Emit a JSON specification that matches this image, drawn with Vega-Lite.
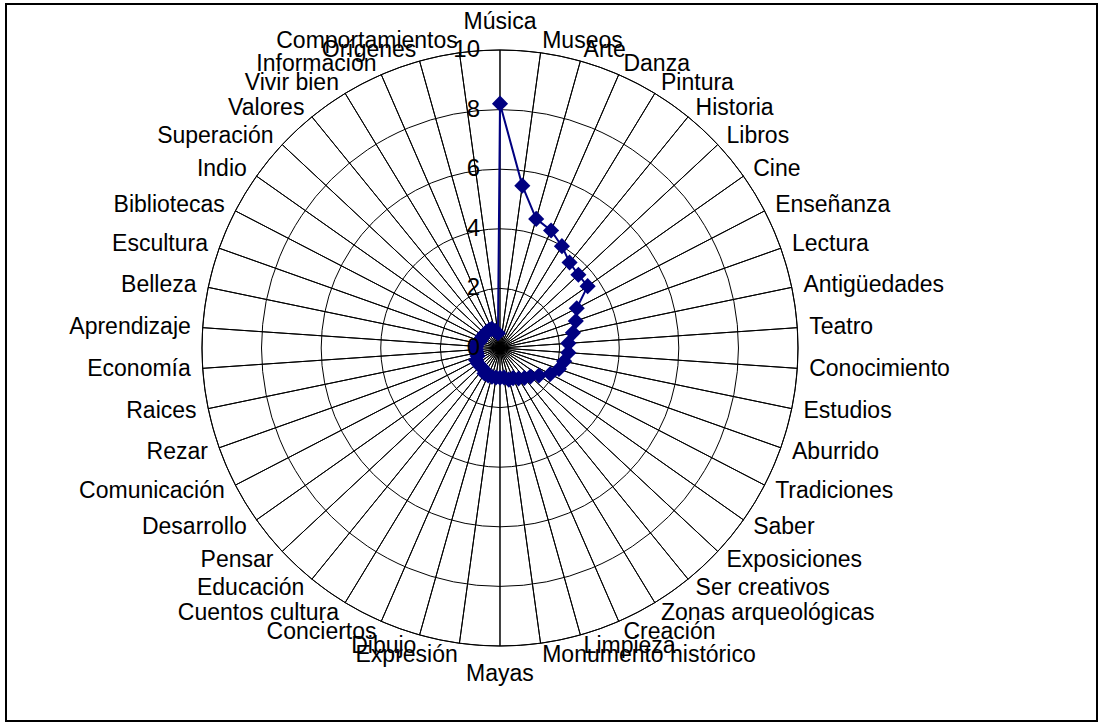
{
  "$schema": "https://vega.github.io/schema/vega-lite/v6.json",
  "width": 1091,
  "height": 717,
  "autosize": {"type": "none"},
  "padding": {"left": 6, "top": 4, "right": 5, "bottom": 3},
  "background": "white",
  "config": {"view": {"stroke": "black", "strokeWidth": 2}, "font": "Liberation Sans"},
  "datasets": {
    "cats": [
      {"cat": "Música", "val": 8.2},
      {"cat": "Museos", "val": 5.5},
      {"cat": "Arte", "val": 4.5},
      {"cat": "Danza", "val": 4.3},
      {"cat": "Pintura", "val": 4.0},
      {"cat": "Historia", "val": 3.7},
      {"cat": "Libros", "val": 3.6},
      {"cat": "Cine", "val": 3.6},
      {"cat": "Enseñanza", "val": 2.9},
      {"cat": "Lectura", "val": 2.7},
      {"cat": "Antigüedades", "val": 2.5},
      {"cat": "Teatro", "val": 2.3},
      {"cat": "Conocimiento", "val": 2.3},
      {"cat": "Estudios", "val": 2.2},
      {"cat": "Aburrido", "val": 2.1},
      {"cat": "Tradiciones", "val": 1.9},
      {"cat": "Saber", "val": 1.6},
      {"cat": "Exposiciones", "val": 1.4},
      {"cat": "Ser creativos", "val": 1.3},
      {"cat": "Zonas arqueológicas", "val": 1.2},
      {"cat": "Creación", "val": 1.1},
      {"cat": "Limpieza", "val": 1.1},
      {"cat": "Monumento histórico", "val": 1.0},
      {"cat": "Mayas", "val": 1.0},
      {"cat": "Expresión", "val": 1.0},
      {"cat": "Dibujo", "val": 1.0},
      {"cat": "Conciertos", "val": 1.0},
      {"cat": "Cuentos cultura", "val": 1.0},
      {"cat": "Educación", "val": 0.9},
      {"cat": "Pensar", "val": 0.9},
      {"cat": "Desarrollo", "val": 0.9},
      {"cat": "Comunicación", "val": 0.9},
      {"cat": "Rezar", "val": 0.8},
      {"cat": "Raices", "val": 0.8},
      {"cat": "Economía", "val": 0.8},
      {"cat": "Aprendizaje", "val": 0.8},
      {"cat": "Belleza", "val": 0.8},
      {"cat": "Escultura", "val": 0.7},
      {"cat": "Bibliotecas", "val": 0.7},
      {"cat": "Indio", "val": 0.7},
      {"cat": "Superación", "val": 0.7},
      {"cat": "Valores", "val": 0.7},
      {"cat": "Vivir bien", "val": 0.7},
      {"cat": "Información", "val": 0.7},
      {"cat": "Orígenes", "val": 0.6},
      {"cat": "Comportamientos", "val": 0.5}
    ],
    "levels": [{"v": 0}, {"v": 2}, {"v": 4}, {"v": 6}, {"v": 8}, {"v": 10}]
  },
  "layer": [
    {
      "data": {"name": "levels"},
      "transform": [{"filter": "datum.v > 0"}],
      "mark": {"type": "arc", "filled": false, "stroke": "black", "strokeWidth": 1},
      "encoding": {
        "x": {"datum": 0, "type": "quantitative", "scale": {"domain": [-16.577, 20.034], "nice": false, "zero": false}, "axis": null},
        "y": {"datum": 0, "type": "quantitative", "scale": {"domain": [-12.517, 11.544], "nice": false, "zero": false}, "axis": null},
        "theta": {"datum": 46, "type": "quantitative", "stack": false, "scale": {"domain": [0, 46], "range": [0, 6.283185307179586]}},
        "radius": {"field": "v", "type": "quantitative", "stack": false, "scale": {"type": "linear", "domain": [0, 10], "range": [0, 298], "zero": true, "nice": false}}
      }
    },
    {
      "data": {"name": "cats"},
      "transform": [{"window": [{"op": "row_number", "as": "rn"}]}],
      "mark": {"type": "arc", "filled": false, "stroke": "black", "strokeWidth": 1},
      "encoding": {
        "x": {"datum": 0, "type": "quantitative"},
        "y": {"datum": 0, "type": "quantitative"},
        "theta": {"aggregate": "count", "type": "quantitative", "stack": true},
        "order": {"field": "rn", "type": "quantitative"},
        "radius": {"datum": 10, "type": "quantitative"}
      }
    },
    {
      "data": {"name": "cats"},
      "transform": [
        {"window": [{"op": "row_number", "as": "rn"}]},
        {"calculate": "2 * PI * (datum.rn - 1) / 46", "as": "ang"},
        {"calculate": "datum.val * sin(datum.ang)", "as": "px"},
        {"calculate": "datum.val * cos(datum.ang)", "as": "py"}
      ],
      "mark": {"type": "line", "color": "#000080", "strokeWidth": 2, "interpolate": "linear-closed"},
      "encoding": {
        "x": {"field": "px", "type": "quantitative"},
        "y": {"field": "py", "type": "quantitative"},
        "order": {"field": "rn", "type": "quantitative"}
      }
    },
    {
      "data": {"name": "cats"},
      "transform": [
        {"window": [{"op": "row_number", "as": "rn"}]},
        {"calculate": "2 * PI * (datum.rn - 1) / 46", "as": "ang"},
        {"calculate": "datum.val * sin(datum.ang)", "as": "px"},
        {"calculate": "datum.val * cos(datum.ang)", "as": "py"}
      ],
      "mark": {"type": "point", "shape": "diamond", "filled": true, "size": 260, "color": "#000080", "opacity": 1},
      "encoding": {
        "x": {"field": "px", "type": "quantitative"},
        "y": {"field": "py", "type": "quantitative"}
      }
    },
    {
      "data": {"name": "cats"},
      "transform": [
        {"window": [{"op": "row_number", "as": "rn"}]},
        {"calculate": "datum.rn - 1", "as": "i"},
        {"filter": "datum.i >= 1 && datum.i <= 22"}
      ],
      "mark": {"type": "text", "align": "left", "baseline": "middle", "fontSize": 23},
      "encoding": {
        "x": {"datum": 0, "type": "quantitative"},
        "y": {"datum": 0, "type": "quantitative"},
        "theta": {"field": "i", "type": "quantitative", "stack": false},
        "radius": {"datum": 10.4, "type": "quantitative", "stack": false},
        "text": {"field": "cat"}
      }
    },
    {
      "data": {"name": "cats"},
      "transform": [
        {"window": [{"op": "row_number", "as": "rn"}]},
        {"calculate": "datum.rn - 1", "as": "i"},
        {"filter": "datum.i >= 24"}
      ],
      "mark": {"type": "text", "align": "right", "baseline": "middle", "fontSize": 23},
      "encoding": {
        "x": {"datum": 0, "type": "quantitative"},
        "y": {"datum": 0, "type": "quantitative"},
        "theta": {"field": "i", "type": "quantitative", "stack": false},
        "radius": {"datum": 10.4, "type": "quantitative", "stack": false},
        "text": {"field": "cat"}
      }
    },
    {
      "data": {"name": "cats"},
      "transform": [
        {"window": [{"op": "row_number", "as": "rn"}]},
        {"calculate": "datum.rn - 1", "as": "i"},
        {"filter": "datum.i == 0 || datum.i == 23"}
      ],
      "mark": {"type": "text", "align": "center", "baseline": "middle", "fontSize": 23},
      "encoding": {
        "x": {"datum": 0, "type": "quantitative"},
        "y": {"datum": 0, "type": "quantitative"},
        "theta": {"field": "i", "type": "quantitative", "stack": false},
        "radius": {"datum": 10.94, "type": "quantitative", "stack": false},
        "text": {"field": "cat"}
      }
    },
    {
      "data": {"name": "levels"},
      "mark": {"type": "text", "align": "right", "baseline": "middle", "fontSize": 24, "dx": -20},
      "encoding": {
        "x": {"datum": 0, "type": "quantitative"},
        "y": {"field": "v", "type": "quantitative"},
        "text": {"field": "v", "type": "quantitative"}
      }
    }
  ]
}
